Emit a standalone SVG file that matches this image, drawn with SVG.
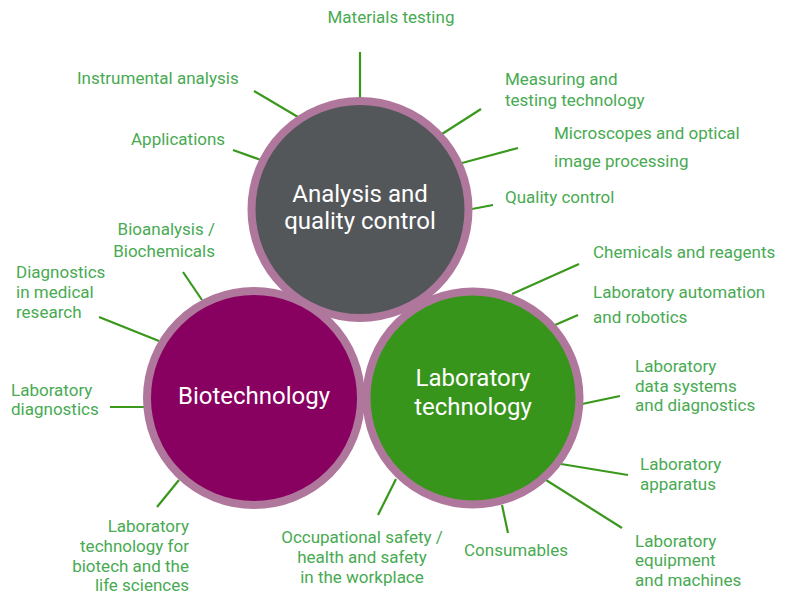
<svg xmlns="http://www.w3.org/2000/svg" width="792" height="596" viewBox="0 0 792 596">
<style>
.lbl{font-family:Roboto,"Open Sans",sans-serif;font-size:17px;fill:#48aa52}
.ctr{font-family:Roboto,"Open Sans",sans-serif;font-size:24px;fill:#ffffff;text-anchor:middle}
.ring{stroke:#b0779d;stroke-width:8}
.conn line{stroke:#3a981c;stroke-width:2.2;stroke-linecap:butt}
.r{text-anchor:end}
.m{text-anchor:middle}
</style>
<rect width="792" height="596" fill="#ffffff"/>
<g id="connectors" class="conn">
<line x1="360" y1="52" x2="360" y2="98"/>
<line x1="254" y1="91" x2="298" y2="117"/>
<line x1="233" y1="150" x2="261" y2="160"/>
<line x1="481" y1="109" x2="442" y2="134"/>
<line x1="518" y1="148" x2="462" y2="163"/>
<line x1="493" y1="205" x2="472" y2="209"/>
<line x1="183" y1="272" x2="202" y2="300"/>
<line x1="99" y1="317" x2="159" y2="341"/>
<line x1="110" y1="407" x2="144" y2="407"/>
<line x1="157" y1="507" x2="179" y2="480"/>
<line x1="378" y1="515" x2="396" y2="479"/>
<line x1="508" y1="533" x2="502" y2="505"/>
<line x1="622" y1="528" x2="546" y2="480"/>
<line x1="628" y1="475" x2="561" y2="464"/>
<line x1="620" y1="396" x2="582" y2="404"/>
<line x1="578" y1="315" x2="555" y2="325"/>
<line x1="579" y1="264" x2="512" y2="294"/>
</g>
<g id="biotechnology">
<circle class="ring" cx="254" cy="398" r="107" fill="#880060"/>
<text class="ctr" x="254" y="404">Biotechnology</text>
</g>
<g id="laboratory-technology">
<circle class="ring" cx="473" cy="398" r="106.5" fill="#38951b"/>
<text class="ctr" x="473" y="386">Laboratory</text>
<text class="ctr" x="473" y="415">technology</text>
</g>
<g id="analysis">
<circle class="ring" cx="360" cy="209.5" r="108.5" fill="#53575a"/>
<text class="ctr" x="360" y="202">Analysis and</text>
<text class="ctr" x="360" y="229">quality control</text>
</g>
<g id="label-materials-testing"><text class="lbl m" x="391" y="23">Materials testing</text></g>
<g id="label-instrumental-analysis"><text class="lbl" x="77" y="84">Instrumental analysis</text></g>
<g id="label-applications"><text class="lbl" x="131" y="145">Applications</text></g>
<g id="label-measuring"><text class="lbl" x="505" y="85">Measuring and</text><text class="lbl" x="505" y="106">testing technology</text></g>
<g id="label-microscopes"><text class="lbl" x="554" y="139">Microscopes and optical</text><text class="lbl" x="554" y="167">image processing</text></g>
<g id="label-quality-control"><text class="lbl" x="505" y="203">Quality control</text></g>
<g id="label-bioanalysis"><text class="lbl r" x="215" y="235">Bioanalysis /</text><text class="lbl r" x="215" y="257">Biochemicals</text></g>
<g id="label-diagnostics-medical"><text class="lbl" x="16" y="278">Diagnostics</text><text class="lbl" x="16" y="298">in medical</text><text class="lbl" x="16" y="318">research</text></g>
<g id="label-lab-diagnostics"><text class="lbl" x="11" y="396">Laboratory</text><text class="lbl" x="11" y="415">diagnostics</text></g>
<g id="label-lab-biotech"><text class="lbl r" x="189" y="532">Laboratory</text><text class="lbl r" x="189" y="552">technology for</text><text class="lbl r" x="189" y="572">biotech and the</text><text class="lbl r" x="189" y="591">life sciences</text></g>
<g id="label-occupational"><text class="lbl m" x="362" y="543">Occupational safety /</text><text class="lbl m" x="362" y="563">health and safety</text><text class="lbl m" x="362" y="583">in the workplace</text></g>
<g id="label-consumables"><text class="lbl" x="464" y="556">Consumables</text></g>
<g id="label-lab-equipment"><text class="lbl" x="635" y="547">Laboratory</text><text class="lbl" x="635" y="566">equipment</text><text class="lbl" x="635" y="586">and machines</text></g>
<g id="label-lab-apparatus"><text class="lbl" x="640" y="470">Laboratory</text><text class="lbl" x="640" y="490">apparatus</text></g>
<g id="label-lab-data"><text class="lbl" x="635" y="372">Laboratory</text><text class="lbl" x="635" y="392">data systems</text><text class="lbl" x="635" y="411">and diagnostics</text></g>
<g id="label-lab-automation"><text class="lbl" x="593" y="298">Laboratory automation</text><text class="lbl" x="593" y="323">and robotics</text></g>
<g id="label-chemicals"><text class="lbl" x="593" y="258">Chemicals and reagents</text></g>
</svg>
